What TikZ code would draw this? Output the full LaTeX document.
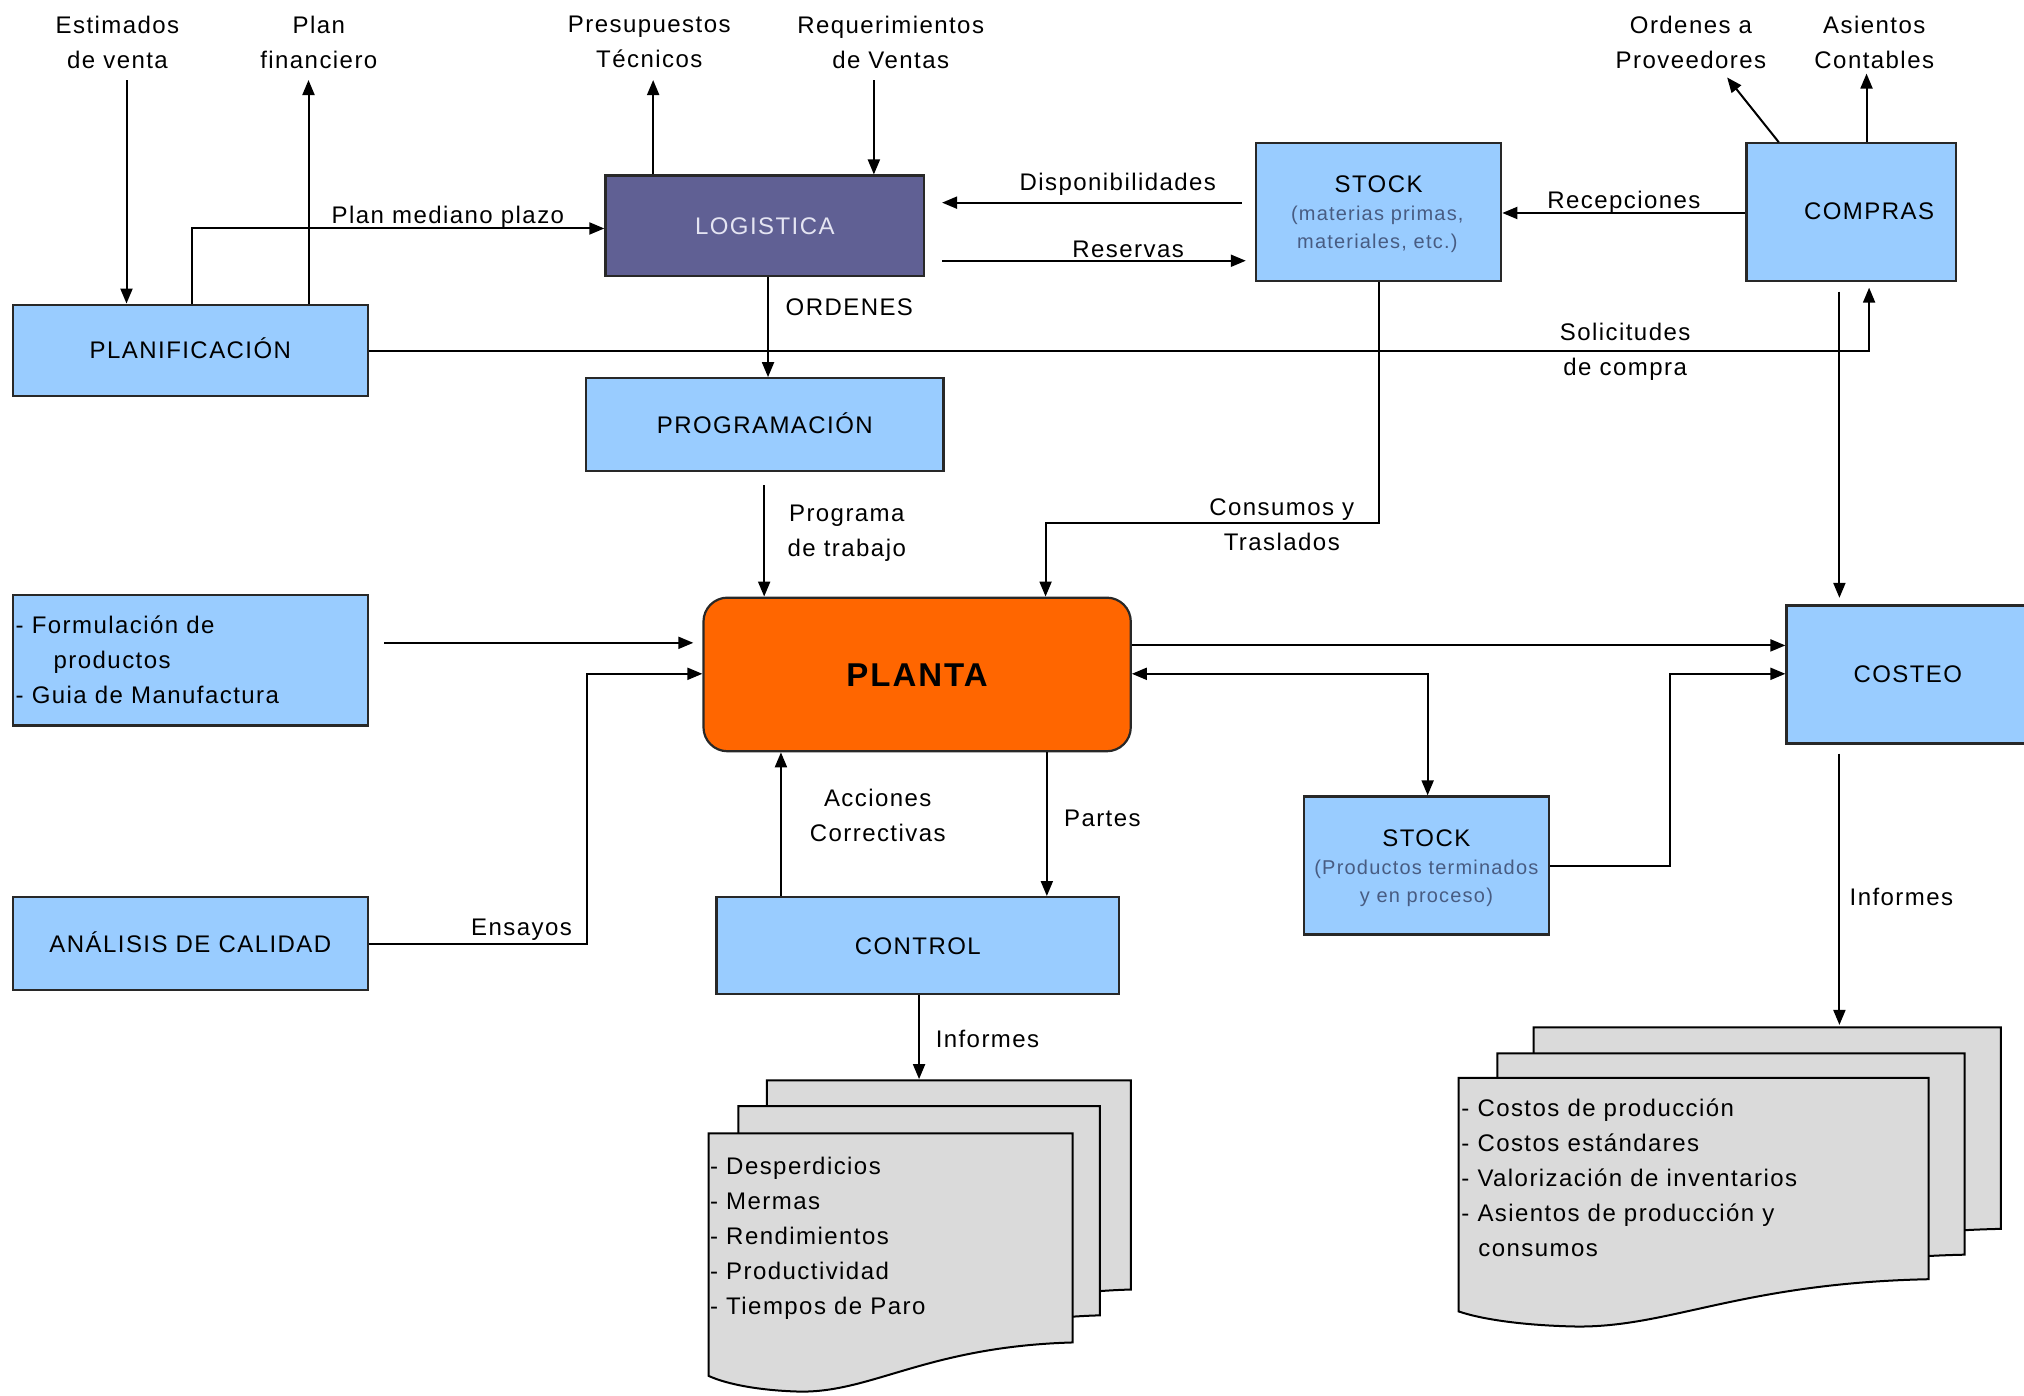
\documentclass[tikz,border=0pt]{standalone}
\usepackage{fontspec}
\setmainfont{Liberation Sans}[LetterSpace=6]
\usetikzlibrary{arrows.meta,calc}
\definecolor{boxblue}{RGB}{153,204,255}
\definecolor{logi}{RGB}{96,96,148}
\definecolor{logitxt}{RGB}{228,228,242}
\definecolor{plantaor}{RGB}{255,102,0}
\definecolor{docgray}{RGB}{218,218,218}
\definecolor{subtxt}{RGB}{72,92,130}
\definecolor{edgec}{RGB}{40,40,40}
\tikzset{
  box/.style={draw=edgec, line width=2.2pt, fill=boxblue, inner sep=0pt, text height=17pt, text depth=0pt},
  lbl/.style={align=center, inner sep=0pt},
  subl/.style={align=center, inner sep=0pt, text=subtxt, font=\fontsize{20}{28}\selectfont},
  conn/.style={line width=2pt, -{Triangle[length=15pt,width=12pt]}},
  conn2/.style={line width=2pt, {Triangle[length=15pt,width=12pt]}-{Triangle[length=15pt,width=12pt]}},
  docs/.style={draw=black, line width=2pt, fill=docgray},
}
\newcommand\docsheet[4]{%
  \filldraw[docs] (#1,#2) -- (#1+#3,#2) -- (#1+#3,#2+#4)
   .. controls (#1+0.6*#3,#2+1.02*#4) and (#1+0.45*#3,#2+1.24*#4) .. (#1+0.25*#3,#2+1.235*#4)
   .. controls (#1+0.14*#3,#2+1.23*#4) and (#1+0.05*#3,#2+1.2*#4) .. (#1,#2+1.16*#4) -- cycle;}
\begin{document}
\begin{tikzpicture}[x=1.2908pt,y=-1.2908pt,font=\fontsize{24}{35}\selectfont]
\useasboundingbox (0,0) rectangle (1568,1081);

% ---------- boxes ----------
\node[box, minimum width=355pt, minimum height=91.6pt] (plan) at (147.5,271.5) {PLANIFICACIÓN};
\node[box, fill=logi, text=logitxt, minimum width=318.8pt, minimum height=100.7pt] (log) at (592.5,175) {LOGISTICA};
\node[box, minimum width=357.5pt, minimum height=92.9pt] (prog) at (592.5,329) {PROGRAMACIÓN};
\node[box, minimum width=245.3pt, minimum height=138.1pt] (stk1) at (1068,164.5) {};
\node[lbl] (stk1t) at (1068,143) {STOCK};
\node[subl] (stk1s) at (1067,178) {(materias primas,\\materiales, etc.)};
\node[box, minimum width=209.1pt, minimum height=138.1pt] (comp) at (1434,164.5) {};
\node[lbl] (compt) at (1448,164) {COMPRAS};
\node[box, minimum width=355pt, minimum height=130.4pt] (form) at (147.5,511.5) {};
\node[lbl, align=left, anchor=west] (formt) at (12,511) {- Formulación de\\\hspace*{38pt}productos\\- Guia de Manufactura};
\node[box, minimum width=355pt, minimum height=92.9pt] (cal) at (147.5,731) {ANÁLISIS DE CALIDAD};
\node[box, fill=plantaor, rounded corners=24pt, minimum width=427.3pt, minimum height=153.6pt,
      text height=24pt, font=\bfseries\fontsize{33}{40}\selectfont] (planta) at (710.5,522.5) {PLANTA};
\node[box, minimum width=402.7pt, minimum height=96.8pt] (ctrl) at (711,732.5) {CONTROL};
\node[box, minimum width=245.3pt, minimum height=138.1pt] (stk2) at (1105,670.5) {};
\node[lbl] (stk2t) at (1105,649) {STOCK};
\node[subl] (stk2s) at (1105,684.5) {(Productos terminados\\y en proceso)};
\node[box, minimum width=242.7pt, minimum height=138.1pt] (cost) at (1478,522.5) {COSTEO};

% ---------- documents ----------
\docsheet{594}{837}{282}{162}
\docsheet{572}{857}{280}{162}
\docsheet{549}{878}{282}{162}
\node[lbl, align=left, anchor=north west] (docLt) at (550,896)
  {- Desperdicios\\- Mermas\\- Rendimientos\\- Productividad\\- Tiempos de Paro};
\docsheet{1188}{796}{362}{156}
\docsheet{1160}{816}{362}{156}
\docsheet{1130}{835}{364}{156}
\node[lbl, align=left, anchor=north west] (docRt) at (1132,851)
  {- Costos de producción\\- Costos estándares\\- Valorización de inventarios\\- Asientos de producción y\\\hspace*{17pt}consumos};
\coordinate (docLtop) at (712,836);
\coordinate (docRtop) at (1425,794);

% ---------- top labels ----------
\node[lbl] (lest) at (91,32.5) {Estimados\\de venta};
\node[lbl] (lfin) at (247,32.5) {Plan\\financiero};
\node[lbl] (lpre) at (503,32.5) {Presupuestos\\Técnicos};
\node[lbl] (lreq) at (690,32.5) {Requerimientos\\de Ventas};
\node[lbl] (lord) at (1310,32.5) {Ordenes a\\Proveedores};
\node[lbl] (lasi) at (1452,32.5) {Asientos\\Contables};

\coordinate (xEst) at (98,62);
\coordinate (xFin) at (239,62);
\coordinate (xPm) at (149,177);
\coordinate (xPre) at (506,62);
\coordinate (xReq) at (677,62);
\coordinate (tOP) at (1338,60);
\coordinate (xOP) at (1378,0);
\coordinate (xAsi) at (1446,57);

\draw[conn] (xEst) -- (xEst |- plan.north);
\draw[conn] (xFin |- plan.north) -- (xFin);
\draw[conn] (xPm |- plan.north) -- (xPm) -- (xPm -| log.west);
\node[lbl] (lpm) at (347,168.5) {Plan mediano plazo};
\draw[conn] (xPre |- log.north) -- (xPre);
\draw[conn] (xReq) -- (xReq |- log.north);
\draw[conn] (comp.north -| xOP) -- (tOP);
\draw[conn] (xAsi |- comp.north) -- (xAsi);

% ---------- logistica / stock / compras ----------
\coordinate (yDisp) at (0,157);
\coordinate (yRes) at (0,202);
\coordinate (yRec) at (0,165);
\draw[conn] ($(stk1.west |- yDisp)+(-10,0)$) -- ($(log.east |- yDisp)+(13,0)$);
\node[lbl] (ldisp) at (866,143) {Disponibilidades};
\draw[conn] ($(log.east |- yRes)+(13,0)$) -- ($(stk1.west |- yRes)+(-7,0)$);
\node[lbl] (lres) at (874,193) {Reservas};
\draw[conn] (comp.west |- yRec) -- (stk1.east |- yRec);
\node[lbl] (lrec) at (1258,157) {Recepciones};

\coordinate (xOrd) at (595,0);
\draw[conn] (log.south -| xOrd) -- (prog.north -| xOrd);
\node[lbl] (lordn) at (658,238) {ORDENES};

\coordinate (ySol) at (0,272);
\coordinate (xSol) at (1448,0);
\draw[conn] (plan.east |- ySol) -- (xSol |- ySol) -- ($(xSol |- comp.south)+(0,4)$);
\node[lbl] (lsol) at (1259,272.5) {Solicitudes\\de compra};

\coordinate (cCon) at (1068,405);
\coordinate (xCon) at (810,0);
\draw[conn] (stk1.south -| cCon) -- (cCon) -- (xCon |- cCon) -- (xCon |- planta.north);
\node[lbl] (lcon) at (993,406.5) {Consumos y\\Traslados};

\coordinate (xProg) at (592,0);
\draw[conn] ($(prog.south -| xProg)+(0,10)$) -- (planta.north -| xProg);
\node[lbl] (lprog) at (656,413) {Programa\\de trabajo};

\coordinate (xCC) at (1425,0);
\draw[conn] ($(comp.south -| xCC)+(0,7)$) -- ($(cost.north -| xCC)+(0,-5)$);

% ---------- planta inputs ----------
\coordinate (yForm) at (0,498);
\draw[conn] ($(form.east |- yForm)+(12,0)$) -- ($(planta.west |- yForm)+(-7,0)$);
\coordinate (yEns) at (0,731);
\coordinate (yEns2) at (0,522);
\coordinate (xEns) at (455,0);
\draw[conn] (cal.east |- yEns) -- (xEns |- yEns) -- (xEns |- yEns2) -- (planta.west |- yEns2);
\node[lbl] (lens) at (404,720) {Ensayos};

\coordinate (xAcc) at (605,0);
\draw[conn] (ctrl.north -| xAcc) -- (planta.south -| xAcc);
\node[lbl] (lacc) at (680,631.5) {Acciones\\Correctivas};
\coordinate (xPar) at (811,0);
\draw[conn] (planta.south -| xPar) -- (ctrl.north -| xPar);
\node[lbl] (lpar) at (854,634) {Partes};

% ---------- planta outputs ----------
\coordinate (yPC) at (0,500);
\draw[conn] (planta.east |- yPC) -- (cost.west |- yPC);
\coordinate (yPS) at (0,522);
\coordinate (xPS) at (1106,0);
\draw[conn2] (planta.east |- yPS) -- (xPS |- yPS) -- (stk2.north -| xPS);
\coordinate (ySC) at (0,671);
\coordinate (xSC) at (1294,0);
\draw[conn] (stk2.east |- ySC) -- (xSC |- ySC) -- (xSC |- yPS) -- (cost.west |- yPS);

% ---------- reports ----------
\draw[conn] (ctrl.south -| docLtop) -- (docLtop);
\node[lbl] (linf1) at (765,805) {Informes};
\draw[conn] ($(cost.south -| docRtop)+(0,7)$) -- (docRtop);
\node[lbl] (linf2) at (1473,695) {Informes};
\end{tikzpicture}
\end{document}
